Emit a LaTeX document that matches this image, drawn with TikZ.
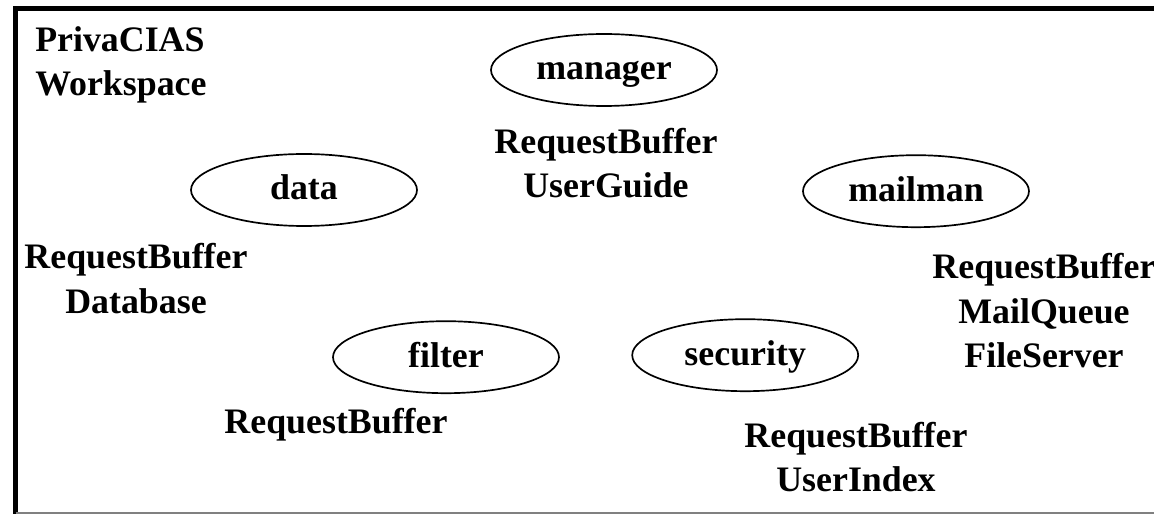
\documentclass[tikz,border=0pt]{standalone}
\usepackage{fontspec}
\setmainfont{Liberation Serif}
\usetikzlibrary{shapes.geometric}

\begin{document}
\begin{tikzpicture}[
    x=1cm,y=1cm,
	agent/.style={draw, ellipse, line width=1.2pt, minimum width=5.65cm, minimum height=1.8cm, inner sep=0, text height=0.68cm, text depth=0.18cm},
	store/.style={align=center, anchor=north, inner sep=0},
	every node/.style={font=\fontsize{25.5}{31.5}\selectfont\bfseries}
]
\useasboundingbox (0,0) rectangle (28.85,-12.85);

\draw[line width=4pt] (0.39,-12.9) -- (0.39,-0.21) -- (29,-0.21);
\draw[gray, line width=1pt] (0.39,-12.83) -- (29,-12.83);

\node[align=left, anchor=north west, inner sep=0] (ws) at (0.875,-0.66) {PrivaCIAS\\Workspace};

\node[agent] (manager) at (15.1,-1.75) {manager};
\node[store] (managerres) at (15.15,-3.2) {RequestBuffer\\UserGuide};

\node[agent] (data) at (7.6,-4.75) {data};
\node[store] (datares) at (3.4,-6.08) {RequestBuffer\\Database};

\node[agent] (mailman) at (22.9,-4.78) {mailman};
\node[store] (mailmanres) at (26.1,-6.33) {RequestBuffer\\MailQueue\\FileServer};

\node[agent] (filter) at (11.15,-8.93) {filter};
\node[store] (filterres) at (8.4,-10.2) {RequestBuffer};

\node[agent] (security) at (18.63,-8.88) {security};
\node[store] (securityres) at (21.4,-10.55) {RequestBuffer\\UserIndex};
\end{tikzpicture}
\end{document}
